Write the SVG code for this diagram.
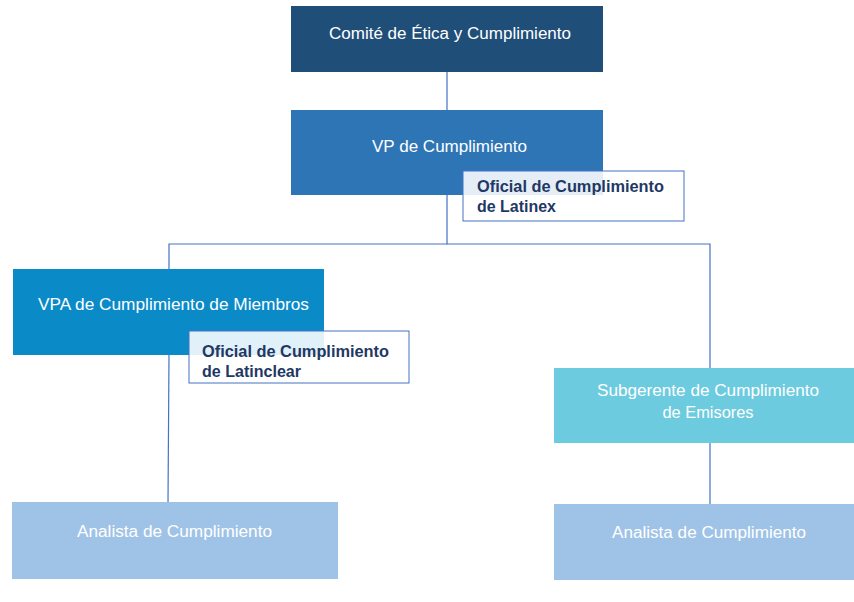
<svg xmlns="http://www.w3.org/2000/svg" width="854" height="602" viewBox="0 0 854 602">
<style>
.t{font-family:"Liberation Sans","Open Sans",sans-serif;font-size:16px;fill:#ffffff;text-anchor:middle}
.o{font-family:"Liberation Sans","Open Sans",sans-serif;font-size:16px;font-weight:bold;fill:#1f3864}
.ob{fill:#ffffff;fill-opacity:0.88;stroke:#4472c4;stroke-width:1}
.c{fill:none;stroke:#4472c4;stroke-width:1.2}
</style>
<rect width="854" height="602" fill="#ffffff"/>
<g id="connectors">
<line class="c" x1="447" y1="72" x2="447" y2="110"/>
<polyline class="c" points="447,195 447,244 169,244 169,269"/>
<polyline class="c" points="447,244 710,244 710,368"/>
<line class="c" x1="169" y1="355" x2="168" y2="502"/>
<line class="c" x1="710" y1="443" x2="710" y2="504"/>
</g>
<g id="comite">
<rect x="291" y="6" width="312" height="66" fill="#1f4e79"/>
<text class="t" x="450" y="39" textLength="242" lengthAdjust="spacingAndGlyphs">Comité de Ética y Cumplimiento</text>
</g>
<g id="vp">
<rect x="291" y="110" width="312" height="85" fill="#2e75b6"/>
<text class="t" x="449.5" y="152" textLength="155" lengthAdjust="spacingAndGlyphs">VP de Cumplimiento</text>
</g>
<g id="oficial-latinex">
<rect class="ob" x="463" y="171" width="221" height="50"/>
<text class="o" x="477" y="192" textLength="187" lengthAdjust="spacingAndGlyphs">Oficial de Cumplimiento</text>
<text class="o" x="477" y="212" textLength="79" lengthAdjust="spacingAndGlyphs">de Latinex</text>
</g>
<g id="vpa">
<rect x="13" y="269" width="311" height="86" fill="#0a8bc8"/>
<text class="t" x="173.5" y="310" textLength="271" lengthAdjust="spacingAndGlyphs">VPA de Cumplimiento de Miembros</text>
</g>
<g id="oficial-latinclear">
<rect class="ob" x="189" y="331" width="220" height="52"/>
<text class="o" x="202" y="357" textLength="187" lengthAdjust="spacingAndGlyphs">Oficial de Cumplimiento</text>
<text class="o" x="202" y="377" textLength="99" lengthAdjust="spacingAndGlyphs">de Latinclear</text>
</g>
<g id="subgerente">
<rect x="554" y="368" width="300" height="75" fill="#6dcbe0"/>
<text class="t" x="708" y="396" textLength="222" lengthAdjust="spacingAndGlyphs">Subgerente de Cumplimiento</text>
<text class="t" x="708" y="418" textLength="91" lengthAdjust="spacingAndGlyphs">de Emisores</text>
</g>
<g id="analista-1">
<rect x="12" y="502" width="326" height="77" fill="#9fc3e6"/>
<text class="t" x="174.5" y="537" textLength="195" lengthAdjust="spacingAndGlyphs">Analista de Cumplimiento</text>
</g>
<g id="analista-2">
<rect x="554" y="504" width="300" height="76" fill="#9fc3e6"/>
<text class="t" x="709" y="538" textLength="194" lengthAdjust="spacingAndGlyphs">Analista de Cumplimiento</text>
</g>
</svg>
